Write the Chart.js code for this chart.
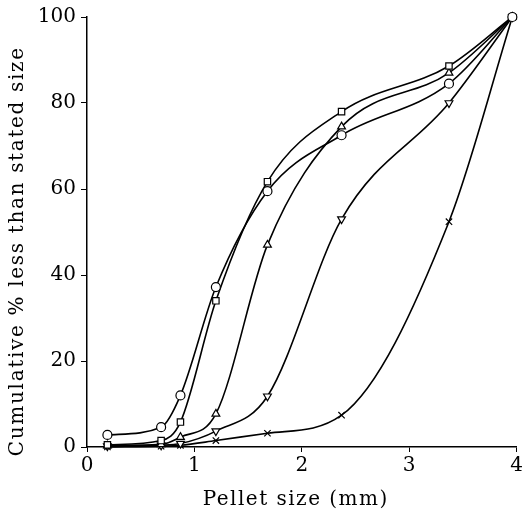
<!DOCTYPE html>
<html lang="en">
<head>
  <meta charset="UTF-8" />
  <title>Pellet size distribution</title>
  <style>
    body {
      margin: 0;
      background: #fff;
    }
    #chart {
      display: block;
    }
  </style>
</head>
<body>
  <canvas id="chart" width="525" height="511"></canvas>

  <script src="https://cdn.jsdelivr.net/npm/chart.js"></script>
  <script>
// pellet size (mm) where each sample was read
const sizes = [0.19, 0.69, 0.87, 1.2, 1.68, 2.37, 3.37, 3.96];

// cumulative % less than stated size, one list per marker
const circleSeries   = [2.8, 4.6, 12, 37.2, 59.5, 72.5, 84.5, 100];
const squareSeries   = [0.5, 1.5, 5.8, 34, 61.7, 78, 88.6, 100];
const triUpSeries    = [0.3, 0.6, 2.3, 7.7, 47, 74.5, 87, 100];
const triDownSeries  = [0.2, 0.4, 0.8, 3.7, 11.8, 53, 80, 100];
const crossSeries    = [0, 0.2, 0.4, 1.5, 3.2, 7.4, 52.4, 100];

const xTicks = [0, 1, 2, 3, 4];
const yTicks = [0, 20, 40, 60, 80, 100];

const xTitle = "Pellet size (mm)";
const yTitle = "Cumulative % less than stated size";

const serif = "'DejaVu Serif', 'Liberation Serif', serif";

function makeSet(values, style, rotation) {
  return {
    data: values.map((v, i) => ({ x: sizes[i], y: v })),
    showLine: true,
    borderColor: "#000",
    borderWidth: 1.6,
    cubicInterpolationMode: "monotone",
    pointStyle: style,
    rotation: rotation || 0,
    pointRadius: 4.5,
    pointBorderWidth: 1.2,
    pointBorderColor: "#000",
    pointBackgroundColor: "#fff",
    clip: false
  };
}

// spread the title letters so the text fills the same length as in the print
function spacedText(ctx, text, x, y, width) {
  ctx.letterSpacing = "0px";
  const natural = ctx.measureText(text).width;
  const gap = Math.max(0, (width - natural) / text.length);
  ctx.letterSpacing = gap + "px";
  ctx.fillText(text, x + gap / 2, y);
}

const spacedTitles = {
  id: "spacedTitles",
  afterDraw(chart) {
    const ctx = chart.ctx;
    ctx.save();
    ctx.fillStyle = "#000";
    ctx.font = "20px " + serif;
    ctx.textAlign = "center";
    ctx.textBaseline = "middle";
    spacedText(ctx, xTitle, 295, 500, 186);
    ctx.translate(18, 252);
    ctx.rotate(-Math.PI / 2);
    spacedText(ctx, yTitle, 0, 0, 410);
    ctx.restore();
  }
};

new Chart(document.getElementById("chart"), {
  type: "scatter",
  data: {
    datasets: [
      makeSet(circleSeries, "circle"),
      makeSet(squareSeries, "rect"),
      makeSet(triUpSeries, "triangle"),
      makeSet(triDownSeries, "triangle", 180),
      makeSet(crossSeries, "crossRot")
    ]
  },
  options: {
    responsive: false,
    animation: false,
    layout: { padding: { top: 17, right: 7, bottom: 0, left: 0 } },
    plugins: {
      legend: { display: false },
      tooltip: { enabled: false }
    },
    scales: {
      x: {
        type: "linear",
        min: 0,
        max: 4,
        afterFit: s => { s.height = 64; },
        afterBuildTicks: s => { s.ticks = xTicks.map(v => ({ value: v })); },
        ticks: {
          color: "#000",
          font: { family: serif, size: 20 },
          padding: 2,
          maxRotation: 0
        },
        grid: { drawOnChartArea: false, tickLength: 5, color: "#000" },
        border: { color: "#000", width: 1.5 }
      },
      y: {
        min: 0,
        max: 100,
        afterFit: s => { s.width = 87; },
        afterBuildTicks: s => { s.ticks = yTicks.map(v => ({ value: v })); },
        ticks: {
          color: "#000",
          font: { family: serif, size: 20 },
          padding: 5
        },
        grid: { drawOnChartArea: false, tickLength: 6, color: "#000" },
        border: { color: "#000", width: 1.5 }
      }
    }
  },
  plugins: [spacedTitles]
});
  </script>
</body>
</html>
